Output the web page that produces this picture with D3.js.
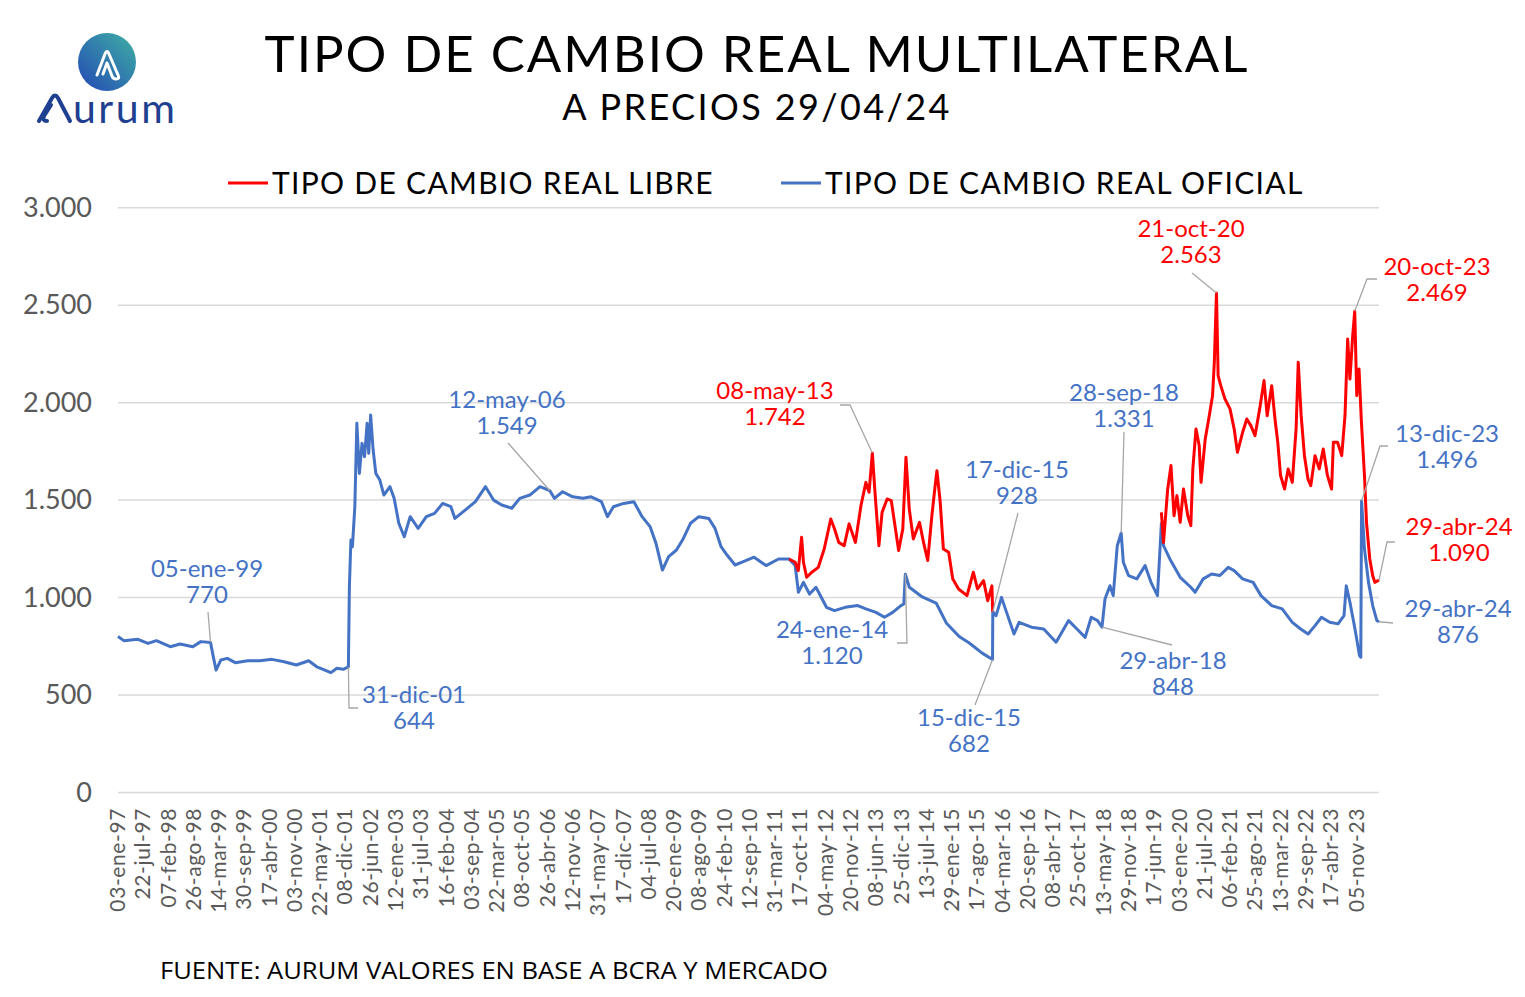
<!DOCTYPE html>
<html lang="es">
<head>
<meta charset="utf-8">
<title>Tipo de cambio real multilateral</title>
<style>
  body { margin: 0; background: #fff; }
  svg { display: block; }
</style>
</head>
<body>
<script src="https://cdn.jsdelivr.net/npm/d3@7"></script>
<script>
// serie oficial (ITCRM a precios 29/04/24)
var oficial = [
  ["1997-01-03",800],["1997-02-18",779],["1997-06-10",786],["1997-08-28",765],["1997-11-03",779],
  ["1998-02-20",748],["1998-05-10",762],["1998-08-18",748],["1998-10-20",774],["1999-01-05",770],
  ["1999-01-27",697],["1999-02-18",628],["1999-03-28",680],["1999-05-18",688],["1999-07-20",666],
  ["1999-10-26",676],["2000-01-30",676],["2000-05-05",683],["2000-08-10",671],["2000-11-14",654],
  ["2001-02-20",676],["2001-04-25",645],["2001-06-28",628],["2001-08-15",615],["2001-10-01",637],
  ["2001-11-20",632],["2001-12-31",644],["2002-01-08",1056],["2002-01-20",1295],["2002-02-01",1261],
  ["2002-02-20",1466],["2002-03-08",1894],["2002-03-28",1637],["2002-04-18",1791],["2002-05-08",1723],
  ["2002-05-28",1894],["2002-06-10",1740],["2002-06-25",1936],["2002-07-15",1757],["2002-08-05",1637],
  ["2002-09-06",1603],["2002-10-08",1526],["2002-11-25",1569],["2002-12-28",1509],["2003-02-03",1381],
  ["2003-03-18",1312],["2003-05-04",1415],["2003-07-06",1355],["2003-09-09",1415],["2003-11-13",1432],
  ["2004-01-16",1483],["2004-03-21",1466],["2004-04-22",1406],["2004-07-12",1449],["2004-10-01",1492],
  ["2004-12-20",1569],["2005-02-22",1500],["2005-04-27",1475],["2005-07-16",1458],["2005-09-17",1509],
  ["2005-12-06",1526],["2006-02-24",1569],["2006-05-12",1549],["2006-06-18",1509],["2006-08-22",1543],
  ["2006-11-10",1517],["2007-01-30",1509],["2007-04-05",1517],["2007-06-25",1492],["2007-08-12",1415],
  ["2007-09-28",1466],["2007-12-18",1483],["2008-03-08",1492],["2008-05-12",1415],["2008-07-14",1364],
  ["2008-08-30",1278],["2008-10-20",1141],["2008-12-08",1210],["2009-02-08",1244],["2009-03-28",1295],
  ["2009-05-30",1381],["2009-08-04",1415],["2009-10-22",1406],["2009-12-10",1355],["2010-01-27",1261],
  ["2010-03-15",1218],["2010-05-18",1167],["2010-07-22",1184],["2010-10-15",1207],["2011-01-18",1164],
  ["2011-04-27",1198],["2011-07-19",1198],["2011-09-05",1164],["2011-10-01",1027],["2011-11-10",1078],
  ["2011-12-28",1018],["2012-02-17",1053],["2012-05-10",950],["2012-07-12",933],["2012-10-05",950],
  ["2013-01-12",959],["2013-03-18",942],["2013-06-06",924],["2013-08-12",899],["2013-10-16",924],
  ["2013-12-20",959],["2014-01-12",967],["2014-01-24",1120],["2014-02-25",1053],["2014-06-07",1003],
  ["2014-09-25",972],["2014-12-14",870],["2015-03-26",800],["2015-06-14",767],["2015-09-24",715],
  ["2015-12-15",682],["2015-12-17",928],["2016-01-12",907],["2016-02-24",1001],["2016-04-04",924],
  ["2016-06-02",813],["2016-07-12",873],["2016-10-18",848],["2017-01-23",839],["2017-05-01",771],
  ["2017-08-08",882],["2017-10-13",839],["2017-12-17",796],["2018-02-03",899],["2018-03-25",882],
  ["2018-04-29",848],["2018-05-23",993],["2018-07-01",1061],["2018-07-27",1010],["2018-08-28",1266],
  ["2018-09-28",1331],["2018-10-15",1181],["2018-11-25",1113],["2019-01-30",1096],["2019-04-05",1164],
  ["2019-05-22",1078],["2019-07-12",1010],["2019-08-12",1380],["2019-08-29",1266],["2019-10-18",1198],
  ["2020-01-08",1104],["2020-04-01",1053],["2020-05-05",1027],["2020-07-08",1096],["2020-09-13",1121],
  ["2020-11-17",1113],["2021-01-22",1155],["2021-03-10",1138],["2021-05-16",1096],["2021-08-07",1078],
  ["2021-10-08",1010],["2022-01-01",959],["2022-03-25",942],["2022-06-13",873],["2022-08-18",839],
  ["2022-10-16",813],["2022-12-10",856],["2023-01-30",899],["2023-04-05",873],["2023-06-10",865],
  ["2023-07-27",907],["2023-08-14",1060],["2023-09-12",976],["2023-10-22",839],["2023-11-27",702],
  ["2023-12-07",694],["2023-12-13",1496],["2024-01-05",1249],["2024-02-06",1078],["2024-03-10",959],
  ["2024-04-12",882],["2024-04-29",876]
];

// serie libre, primer cepo
var libre1 = [
  ["2011-07-19",1198],["2011-09-05",1181],["2011-09-30",1138],["2011-10-26",1309],["2011-11-10",1181],
  ["2011-12-05",1104],["2012-01-15",1130],["2012-03-06",1155],["2012-04-22",1249],["2012-06-13",1403],
  ["2012-07-13",1352],["2012-08-15",1283],["2012-09-27",1266],["2012-11-05",1378],["2012-12-25",1283],
  ["2013-02-07",1472],["2013-03-18",1591],["2013-04-12",1540],["2013-05-08",1742],["2013-05-27",1557],
  ["2013-06-29",1266],["2013-07-24",1437],["2013-09-02",1506],["2013-10-05",1497],["2013-10-30",1386],
  ["2013-12-02",1241],["2014-01-04",1352],["2014-01-29",1720],["2014-02-24",1455],["2014-03-28",1301],
  ["2014-05-16",1386],["2014-06-17",1283],["2014-07-20",1190],["2014-08-22",1420],["2014-09-17",1574],
  ["2014-10-01",1651],["2014-10-27",1489],["2014-11-21",1249],["2015-01-02",1232],["2015-02-03",1096],
  ["2015-03-21",1044],["2015-05-27",1010],["2015-07-16",1130],["2015-08-18",1044],["2015-10-05",1087],
  ["2015-11-07",984],["2015-12-10",1060],["2015-12-16",928]
];

// serie libre, segundo cepo
var libre2 = [
  ["2019-08-12",1437],["2019-08-29",1283],["2019-10-01",1557],["2019-10-27",1677],["2019-11-20",1420],
  ["2019-12-13",1523],["2020-01-08",1386],["2020-02-03",1557],["2020-03-08",1420],["2020-04-01",1369],
  ["2020-04-17",1660],["2020-05-12",1865],["2020-06-06",1780],["2020-06-21",1591],["2020-07-24",1814],
  ["2020-08-25",1933],["2020-09-20",2036],["2020-10-04",2207],["2020-10-21",2563],["2020-11-03",2139],
  ["2020-11-24",2087],["2020-12-27",2019],["2021-02-05",1968],["2021-03-10",1865],["2021-04-05",1745],
  ["2021-05-16",1848],["2021-06-18",1916],["2021-07-20",1882],["2021-08-22",1831],["2021-09-28",1968],
  ["2021-11-01",2113],["2021-11-26",1933],["2022-01-01",2087],["2022-01-27",1916],["2022-02-18",1797],
  ["2022-03-12",1626],["2022-04-13",1557],["2022-05-11",1660],["2022-06-13",1591],["2022-07-13",1865],
  ["2022-07-30",2207],["2022-08-22",1933],["2022-09-17",1728],["2022-10-15",1608],["2022-11-06",1574],
  ["2022-12-10",1728],["2023-01-12",1660],["2023-02-13",1762],["2023-03-18",1626],["2023-04-20",1557],
  ["2023-05-04",1797],["2023-06-06",1797],["2023-07-09",1728],["2023-08-04",1933],["2023-08-25",2327],
  ["2023-09-12",2121],["2023-10-04",2344],["2023-10-20",2469],["2023-11-05",2036],["2023-11-23",2173],
  ["2023-12-12",1899],["2024-01-05",1626],["2024-01-21",1386],["2024-02-16",1198],["2024-03-10",1113],
  ["2024-03-27",1078],["2024-04-29",1090]
];

var yTicks = [0, 500, 1000, 1500, 2000, 2500, 3000];

var xTickLabels = [
  "03-ene-97","22-jul-97","07-feb-98","26-ago-98","14-mar-99","30-sep-99","17-abr-00","03-nov-00",
  "22-may-01","08-dic-01","26-jun-02","12-ene-03","31-jul-03","16-feb-04","03-sep-04","22-mar-05",
  "08-oct-05","26-abr-06","12-nov-06","31-may-07","17-dic-07","04-jul-08","20-ene-09","08-ago-09",
  "24-feb-10","12-sep-10","31-mar-11","17-oct-11","04-may-12","20-nov-12","08-jun-13","25-dic-13",
  "13-jul-14","29-ene-15","17-ago-15","04-mar-16","20-sep-16","08-abr-17","25-oct-17","13-may-18",
  "29-nov-18","17-jun-19","03-ene-20","21-jul-20","06-feb-21","25-ago-21","13-mar-22","29-sep-22",
  "17-abr-23","05-nov-23"
];

// etiquetas: texto, serie, posicion del texto y quiebre del conector
var anotaciones = [
  {fecha:"1999-01-05", valor:770,  serie:"oficial", tx:207,  ty:569, guia:[[208,612]]},
  {fecha:"2001-12-31", valor:644,  serie:"oficial", tx:414,  ty:695, guia:[[358,708],[349,708]]},
  {fecha:"2006-05-12", valor:1549, serie:"oficial", tx:507,  ty:400, guia:[[508,443]]},
  {fecha:"2013-05-08", valor:1742, serie:"libre",   tx:775,  ty:391, guia:[[840,405],[850,405]]},
  {fecha:"2014-01-24", valor:1120, serie:"oficial", tx:832,  ty:630, guia:[[897,643],[907,643]]},
  {fecha:"2015-12-17", valor:928,  serie:"oficial", tx:1017, ty:470, guia:[[1018,513]]},
  {fecha:"2015-12-15", valor:682,  serie:"oficial", tx:969,  ty:718, guia:[[975,705]]},
  {fecha:"2018-09-28", valor:1331, serie:"oficial", tx:1124, ty:393, guia:[[1124,432]]},
  {fecha:"2018-04-29", valor:848,  serie:"oficial", tx:1173, ty:661, guia:[[1172,645]]},
  {fecha:"2020-10-21", valor:2563, serie:"libre",   tx:1191, ty:229, guia:[[1192,273]]},
  {fecha:"2023-10-20", valor:2469, serie:"libre",   tx:1437, ty:267, guia:[[1377,279],[1367,279]]},
  {fecha:"2023-12-13", valor:1496, serie:"oficial", tx:1447, ty:434, guia:[[1388,446],[1380,446]]},
  {fecha:"2024-04-29", valor:1090, serie:"libre",   tx:1459, ty:527, guia:[[1395,542],[1387,542]]},
  {fecha:"2024-04-29", valor:876,  serie:"oficial", tx:1458, ty:609, guia:[[1393,623]]}
];

var colores = {oficial: "#4472C4", libre: "#FF0000"};
var meses = ["ene","feb","mar","abr","may","jun","jul","ago","sep","oct","nov","dic"];

var W = 1525, H = 997;
var parse = d3.timeParse("%Y-%m-%d");
var fmtNum = function(v){ return d3.format(",")(v).replace(/,/g, "."); };
var fmtFecha = function(d){
  return d3.timeFormat("%d")(d) + "-" + meses[d.getMonth()] + "-" + d3.timeFormat("%y")(d);
};
var parseEtiqueta = function(s){
  var p = s.split("-");
  return new Date(2000 + (+p[2] > 50 ? -100 : 0) + (+p[2]), meses.indexOf(p[1]), +p[0]);
};

var x = d3.scaleTime()
  .domain([parse("1997-01-03"), parse("2024-04-29")])
  .range([118, 1379]);
var y = d3.scaleLinear().domain([0, 3000]).range([792.5, 207.7]);

var svg = d3.select("body").append("svg")
  .attr("width", W).attr("height", H)
  .style("font-family", "Lato, 'Open Sans', sans-serif");

// logo
var logo = svg.append("g");
var grad = svg.append("defs").append("linearGradient")
  .attr("id", "lg").attr("x1", "0").attr("y1", "1").attr("x2", "1").attr("y2", "0");
grad.append("stop").attr("offset", "0").attr("stop-color", "#2348b5");
grad.append("stop").attr("offset", "1").attr("stop-color", "#3fb0a4");
logo.append("circle").attr("cx", 107).attr("cy", 62).attr("r", 29).attr("fill", "url(#lg)");
logo.append("path")
  .attr("d", "M97,75 L105,54 Q107,49 109,54 L118,75 Q120,79 116,79 Q113,79 112,76 L107,63 L103,74")
  .attr("fill", "none").attr("stroke", "#fff").attr("stroke-width", 3)
  .attr("stroke-linecap", "round").attr("stroke-linejoin", "round");
logo.append("path")
  .attr("d", "M39,121 L52,98 Q55,93 58,98 L70,121 M47,121 Q42,121 44,116 L51,105")
  .attr("fill", "none").attr("stroke", "#1f3f90").attr("stroke-width", 4)
  .attr("stroke-linecap", "round").attr("stroke-linejoin", "round");
logo.append("text").attr("x", 73).attr("y", 123)
  .attr("font-size", 41).attr("fill", "#1f3f90").attr("font-family", "Lato, sans-serif")
  .attr("letter-spacing", 2.5)
  .text("urum");

// titulos
svg.append("text").attr("x", 757).attr("y", 72).attr("text-anchor", "middle")
  .attr("font-size", 51).attr("fill", "#000").attr("font-family", "Lato, sans-serif")
  .attr("letter-spacing", 2)
  .text("TIPO DE CAMBIO REAL MULTILATERAL");
svg.append("text").attr("x", 757).attr("y", 119.5).attr("text-anchor", "middle")
  .attr("font-size", 36).attr("fill", "#000").attr("font-family", "Lato, sans-serif")
  .attr("letter-spacing", 2.4)
  .text("A PRECIOS 29/04/24");

// leyenda
var leyenda = [
  {nombre: "TIPO DE CAMBIO REAL LIBRE", serie: "libre", x0: 228},
  {nombre: "TIPO DE CAMBIO REAL OFICIAL", serie: "oficial", x0: 781}
];
var lg = svg.append("g").selectAll("g").data(leyenda).enter().append("g");
lg.append("line").attr("x1", function(d){ return d.x0; }).attr("x2", function(d){ return d.x0 + 40; })
  .attr("y1", 183).attr("y2", 183).attr("stroke", function(d){ return colores[d.serie]; })
  .attr("stroke-width", 3);
lg.append("text").attr("x", function(d){ return d.x0 + 44; }).attr("y", 194)
  .attr("font-size", 30).attr("fill", "#000").attr("letter-spacing", 1.3)
  .text(function(d){ return d.nombre; });

// grilla y eje y
var grid = svg.append("g");
grid.selectAll("line").data(yTicks).enter().append("line")
  .attr("x1", x.range()[0]).attr("x2", x.range()[1])
  .attr("y1", function(d){ return y(d); }).attr("y2", function(d){ return y(d); })
  .attr("stroke", "#D9D9D9").attr("stroke-width", 1.5);
grid.selectAll("text").data(yTicks).enter().append("text")
  .attr("x", 92).attr("y", function(d){ return y(d) + 9; })
  .attr("text-anchor", "end").attr("font-size", 27).attr("fill", "#595959")
  .text(function(d){ return fmtNum(d); });

// eje x
svg.append("g").selectAll("text").data(xTickLabels).enter().append("text")
  .attr("transform", function(d){ return "translate(" + (x(parseEtiqueta(d)) + 7) + ",808) rotate(-90)"; })
  .attr("text-anchor", "end").attr("font-size", 21).attr("fill", "#595959")
  .attr("letter-spacing", 0.6)
  .text(function(d){ return d; });

// lineas
var linea = d3.line()
  .x(function(d){ return x(parse(d[0])); })
  .y(function(d){ return y(d[1]); });

var series = [
  {datos: oficial, serie: "oficial"},
  {datos: libre1, serie: "libre"},
  {datos: libre2, serie: "libre"}
];
svg.append("g").selectAll("path").data(series).enter().append("path")
  .attr("d", function(d){ return linea(d.datos); })
  .attr("fill", "none")
  .attr("stroke", function(d){ return colores[d.serie]; })
  .attr("stroke-width", 3)
  .attr("stroke-linejoin", "round");

// anotaciones
var an = svg.append("g").selectAll("g").data(anotaciones).enter().append("g");
an.append("path")
  .attr("d", function(d){
    var pts = d.guia.concat([[x(parse(d.fecha)), y(d.valor)]]);
    return d3.line()(pts);
  })
  .attr("fill", "none").attr("stroke", "#A6A6A6").attr("stroke-width", 1.3);
an.append("text").attr("x", function(d){ return d.tx; }).attr("y", function(d){ return d.ty + 8; })
  .attr("text-anchor", "middle").attr("font-size", 24)
  .attr("fill", function(d){ return colores[d.serie]; })
  .text(function(d){ return fmtFecha(parse(d.fecha)); });
an.append("text").attr("x", function(d){ return d.tx; }).attr("y", function(d){ return d.ty + 34; })
  .attr("text-anchor", "middle").attr("font-size", 24)
  .attr("fill", function(d){ return colores[d.serie]; })
  .text(function(d){ return fmtNum(d.valor); });

// fuente
svg.append("text").attr("x", 160).attr("y", 979)
  .attr("font-size", 23.5).attr("fill", "#000").attr("font-family", "'Open Sans', sans-serif")
  .attr("textLength", 668).attr("lengthAdjust", "spacingAndGlyphs")
  .text("FUENTE: AURUM VALORES EN BASE A BCRA Y MERCADO");
</script>
</body>
</html>
